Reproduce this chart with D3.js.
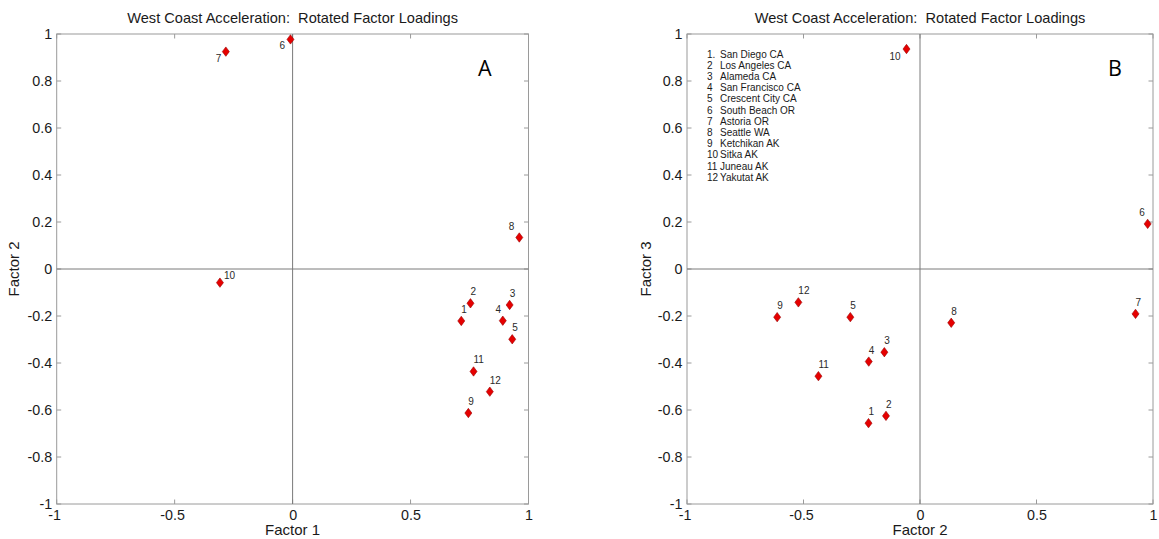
<!DOCTYPE html>
<html>
<head>
<meta charset="utf-8">
<script src="https://cdn.jsdelivr.net/npm/d3@7"></script>
<style>
  html, body { margin: 0; padding: 0; background: #fff; }
  svg { display: block; }
  text { font-family: "Liberation Sans", Arial, sans-serif; }
</style>
</head>
<body>
<svg id="chart" width="1159" height="539"></svg>
<script>
// Station numbering and names
const stationIds = [1, 2, 3, 4, 5, 6, 7, 8, 9, 10, 11, 12];
const legendNumbers = ["1.", "2", "3", "4", "5", "6", "7", "8", "9", "10", "11", "12"];
const stationNames = [
  "San Diego CA", "Los Angeles CA", "Alameda CA", "San Francisco CA",
  "Crescent City CA", "South Beach OR", "Astoria OR", "Seattle WA",
  "Ketchikan AK", "Sitka AK", "Juneau AK", "Yakutat AK"
];

// Rotated factor loadings per station
const factor1 = [0.715, 0.754, 0.920, 0.891, 0.931, -0.009, -0.283, 0.961, 0.745, -0.308, 0.767, 0.836];
const factor2 = [-0.221, -0.146, -0.153, -0.220, -0.299, 0.977, 0.925, 0.134, -0.613, -0.058, -0.436, -0.522];
const factor3 = [-0.656, -0.625, -0.354, -0.394, -0.205, 0.192, -0.191, -0.229, -0.205, 0.936, -0.456, -0.142];

// Axis ticks
const xTicks = [-1, -0.5, 0, 0.5, 1];
const yTicks = [-1, -0.8, -0.6, -0.4, -0.2, 0, 0.2, 0.4, 0.6, 0.8, 1];

const titleText = "West Coast Acceleration:  Rotated Factor Loadings";

const svg = d3.select("#chart");
const fmt = v => (v < 0 ? "-" : "") + String(Math.abs(v));

// Panel layout and label placement (offset of each number label from its marker)
const panels = [
  {
    left: 56.7, right: 528.5, top: 34, bottom: 504,
    xs: factor1, ys: factor2, xLabel: "Factor 1", yLabel: "Factor 2", yLabelX: 14,
    tag: "A", legend: false,
    offsets: { 4: [-7.3, -8], 6: [-11, 9.3], 7: [-10.2, 10.6], 8: [-10.6, -8], 10: [4, -3.5] }
  },
  {
    left: 687, right: 1153, top: 34, bottom: 504,
    xs: factor2, ys: factor3, xLabel: "Factor 2", yLabel: "Factor 3", yLabelX: 646,
    tag: "B", legend: true,
    offsets: { 6: [-8.4, -8], 10: [-17.1, 10.9] }
  }
];

const diamond = (hw, hh) => {
  const p = d3.path();
  p.moveTo(0, -hh); p.lineTo(hw, 0); p.lineTo(0, hh); p.lineTo(-hw, 0); p.closePath();
  return p.toString();
};

panels.forEach(P => {
  const x = d3.scaleLinear().domain([-1, 1]).range([P.left, P.right]);
  const y = d3.scaleLinear().domain([-1, 1]).range([P.bottom, P.top]);
  const g = svg.append("g");
  const tickLen = 4.5;

  // Tick labels
  const bottomAxis = d3.axisBottom(x).tickValues(xTicks).tickSize(0).tickFormat(fmt);
  const ax = g.append("g").attr("transform", `translate(0,${P.bottom})`).call(bottomAxis);
  ax.select(".domain").remove();
  ax.selectAll("text")
    .attr("y", 5.8).attr("dy", "0.71em")
    .attr("dx", d => d < 0 ? -2.5 : 0)
    .attr("fill", "#1a1a1a").style("font-size", "14.3px").style("font-family", "Liberation Sans, Arial, sans-serif");

  const leftAxis = d3.axisLeft(y).tickValues(yTicks).tickSize(0).tickFormat(fmt);
  const ay = g.append("g").attr("transform", `translate(${P.left},0)`).call(leftAxis);
  ay.select(".domain").remove();
  ay.selectAll("text")
    .attr("x", -4.5).attr("dy", "0.34em")
    .attr("fill", "#1a1a1a").style("font-size", "14.3px").style("font-family", "Liberation Sans, Arial, sans-serif");

  // Frame with inward ticks on all four sides
  const frame = g.append("g").attr("stroke", "#9a9a9a").attr("stroke-width", 1).attr("fill", "none");
  frame.append("rect")
    .attr("x", P.left).attr("y", P.top)
    .attr("width", P.right - P.left).attr("height", P.bottom - P.top);
  xTicks.forEach(v => {
    frame.append("line").attr("x1", x(v)).attr("x2", x(v)).attr("y1", P.bottom).attr("y2", P.bottom - tickLen);
    frame.append("line").attr("x1", x(v)).attr("x2", x(v)).attr("y1", P.top).attr("y2", P.top + tickLen);
  });
  yTicks.forEach(v => {
    frame.append("line").attr("x1", P.left).attr("x2", P.left + tickLen).attr("y1", y(v)).attr("y2", y(v));
    frame.append("line").attr("x1", P.right).attr("x2", P.right - tickLen).attr("y1", y(v)).attr("y2", y(v));
  });

  // Zero reference lines
  g.append("line").attr("x1", P.left).attr("x2", P.right).attr("y1", y(0)).attr("y2", y(0))
    .attr("stroke", "#7a7a7a").attr("stroke-width", 1);
  g.append("line").attr("x1", x(0)).attr("x2", x(0)).attr("y1", P.top).attr("y2", P.bottom)
    .attr("stroke", "#7a7a7a").attr("stroke-width", 1);

  // Title and axis labels
  g.append("text").attr("x", (P.left + P.right) / 2).attr("y", 22.7)
    .attr("text-anchor", "middle").attr("fill", "#1a1a1a").style("font-size", "14.6px")
    .style("white-space", "pre").attr("xml:space", "preserve")
    .text(titleText);
  g.append("text").attr("x", x(0)).attr("y", 535)
    .attr("text-anchor", "middle").attr("fill", "#1a1a1a").style("font-size", "15px")
    .text(P.xLabel);
  g.append("text").attr("transform", `translate(${P.yLabelX},${(P.top + P.bottom) / 2}) rotate(-90)`)
    .attr("text-anchor", "middle").attr("dy", "0.36em").attr("fill", "#1a1a1a").style("font-size", "15px")
    .text(P.yLabel);

  // Panel tag
  g.append("text").attr("x", P.left + 428).attr("y", 76.2)
    .attr("text-anchor", "middle").attr("fill", "#000")
    .style("font-family", "'Open Sans', 'Liberation Sans', sans-serif").style("font-size", "21.5px")
    .text(P.tag);

  // Station legend
  if (P.legend) {
    const lg = g.append("g").style("font-size", "10px").attr("fill", "#1a1a1a");
    stationNames.forEach((name, i) => {
      const yy = 54 + i * 11.21 + 3.6;
      lg.append("text").attr("x", P.left + 20).attr("y", yy).text(legendNumbers[i]);
      lg.append("text").attr("x", P.left + 33).attr("y", yy).text(name);
    });
  }

  // Markers and number labels
  const pts = stationIds.map((id, i) => ({ id, vx: P.xs[i], vy: P.ys[i] }));
  g.selectAll("path.pt").data(pts).join("path")
    .attr("class", "pt")
    .attr("d", diamond(3.5, 4.7))
    .attr("transform", d => `translate(${x(d.vx)},${y(d.vy)})`)
    .attr("fill", "#e60000").attr("stroke", "#990000").attr("stroke-width", 0.6);

  g.selectAll("text.lab").data(pts).join("text")
    .attr("class", "lab")
    .attr("x", d => x(d.vx) + (P.offsets[d.id] ? P.offsets[d.id][0] : 0))
    .attr("y", d => y(d.vy) + (P.offsets[d.id] ? P.offsets[d.id][1] : -8))
    .attr("fill", "#2a2a2a").style("font-size", "10px")
    .text(d => d.id);
});
</script>
</body>
</html>
